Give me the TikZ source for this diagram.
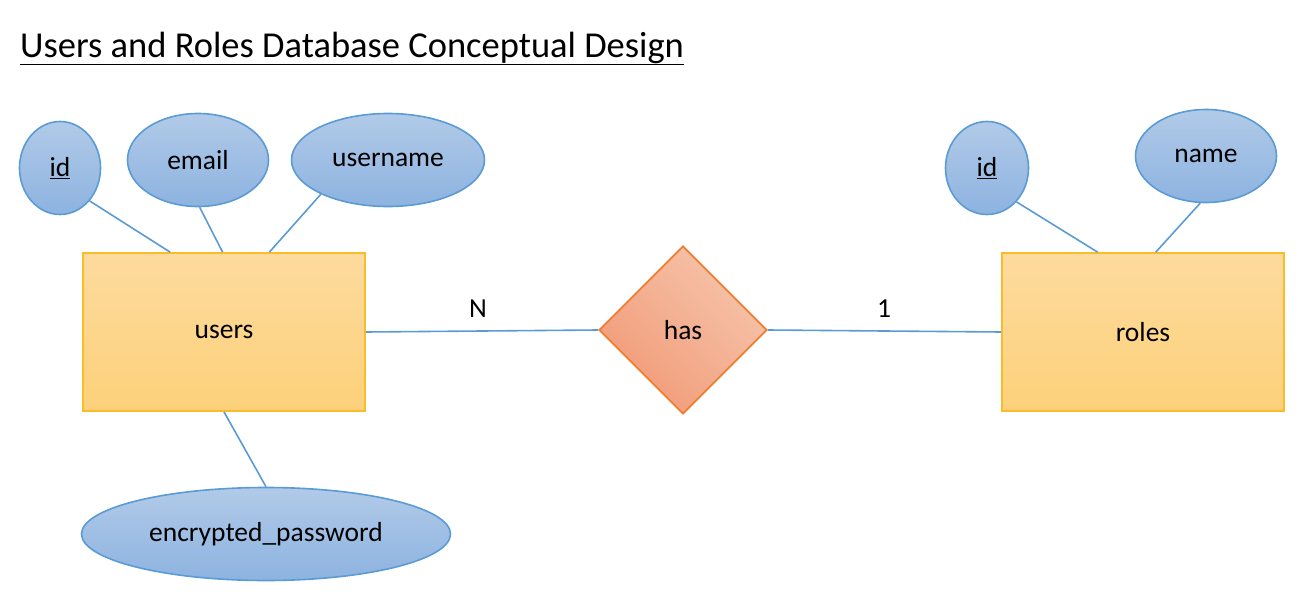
\documentclass[tikz,border=0pt]{standalone}
\usepackage{fontspec}
\setmainfont{Carlito}
\usetikzlibrary{shapes.geometric,calc}
\definecolor{attrline}{HTML}{5B9BD5}
\definecolor{attrtop}{HTML}{B1CAE8}
\definecolor{attrbot}{HTML}{8DB3E0}
\definecolor{enttop}{HTML}{FDDB9E}
\definecolor{entbot}{HTML}{FDD17A}
\definecolor{entline}{HTML}{FBBC2C}
\definecolor{reltop}{HTML}{F6C4AB}
\definecolor{relbot}{HTML}{F19B77}
\definecolor{relline}{HTML}{ED7D31}
\tikzset{
  x=1pt,y=-1pt,
  lbl/.style={font=\fontsize{27.5}{32}\selectfont},
  attr/.style={ellipse,draw=attrline,line width=1.6pt,top color=attrtop,bottom color=attrbot,inner sep=0pt,lbl},
  entity/.style={rectangle,draw=entline,line width=1.8pt,top color=enttop,bottom color=entbot,minimum width=282pt,minimum height=158pt,inner sep=0pt,lbl},
  rel/.style={diamond,draw=relline,line width=1.8pt,top color=reltop,bottom color=relbot,shading angle=-45,minimum width=168pt,minimum height=168pt,inner sep=0pt,aspect=1,lbl},
  conn/.style={draw=attrline,line width=1.6pt},
  card/.style={lbl,inner sep=0pt}
}
\begin{document}
\begin{tikzpicture}
\useasboundingbox (0,0) rectangle (1303,610);
\node[anchor=base west,inner sep=0pt,font=\fontsize{36.5}{40}\selectfont] (title) at (20,57) {\underline{Users and Roles Database Conceptual Design}};
\node[entity] (users) at (224,332) {users};
\node[entity] (roles) at (1143,332) {roles};
\node[rel] (has) at (683,330) {has};
\node[attr,minimum width=81pt,minimum height=93pt] (uid) at (60,168) {\underline{id}};
\node[attr,minimum width=141pt,minimum height=93pt] (email) at (198,160) {email};
\node[attr,minimum width=193pt,minimum height=93pt] (uname) at (388,160) {username};
\node[attr,minimum width=369pt,minimum height=93pt] (pwd) at (266,534) {encrypted\_password};
\node[attr,minimum width=83pt,minimum height=93pt] (rid) at (987,168) {\underline{id}};
\node[attr,minimum width=141pt,minimum height=93pt] (rname) at (1206,156) {name};
\draw[conn] (uid.-48) -- ($(users.north west)!0.31!(users.north east)$);
\draw[conn] (email.-88) -- ($(users.north west)!0.495!(users.north east)$);
\draw[conn] (uname.-153) -- ($(users.north west)!0.66!(users.north east)$);
\draw[conn] ($(users.south west)!0.50!(users.south east)$) -- (pwd.north);
\draw[conn] (rid.-49) -- ($(roles.north west)!0.34!(roles.north east)$);
\draw[conn] (rname.-97) -- ($(roles.north west)!0.545!(roles.north east)$);
\draw[conn] (users.east) -- (has.west);
\draw[conn] (has.east) -- (roles.west);
\node[card] (n) at (478,309) {N};
\node[card] (one) at (884,309) {1};
\end{tikzpicture}
\end{document}
